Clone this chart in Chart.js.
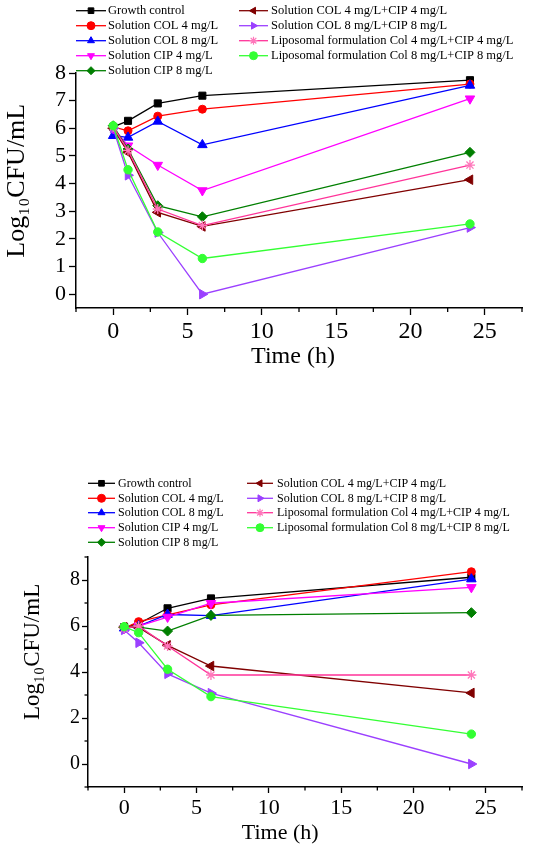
<!DOCTYPE html>
<html><head><meta charset="utf-8">
<script src="https://cdn.jsdelivr.net/npm/chart.js@4/dist/chart.umd.min.js"></script>
<style>
html,body{margin:0;padding:0;background:#fff;}
#wrap{position:relative;width:550px;height:849px;overflow:hidden;}
#c1{position:absolute;left:0;top:0;}
#c2{position:absolute;left:0;top:400px;}
</style></head><body>
<div id="wrap"><canvas id="c1" width="550" height="400"></canvas><canvas id="c2" width="550" height="449"></canvas></div>
<script>
// ---- data ----
const timePoints = [0, 1, 3, 6, 24];
const seriesNames = [
  'Growth control',
  'Solution COL 4 mg/L',
  'Solution COL 8 mg/L',
  'Solution CIP 4 mg/L',
  'Solution CIP 8 mg/L',
  'Solution COL 4 mg/L+CIP 4 mg/L',
  'Solution COL 8 mg/L+CIP 8 mg/L',
  'Liposomal formulation Col 4 mg/L+CIP 4 mg/L',
  'Liposomal formulation Col 8 mg/L+CIP 8 mg/L'
];
const xTickValues = [0, 5, 10, 15, 20, 25];
const topYTickValues = [0, 1, 2, 3, 4, 5, 6, 7, 8];
const bottomYTickValues = [0, 2, 4, 6, 8];
const yTitleText = 'Log\u2081\u2080CFU/mL';
const xTitleText = 'Time (h)';

// top panel
const topGrowth = [6.05, 6.27, 6.90, 7.18, 7.74];
const topCol4   = [6.05, 5.91, 6.44, 6.69, 7.60];
const topCol8   = [5.73, 5.67, 6.25, 5.40, 7.55];
const topCip4   = [6.00, 5.37, 4.67, 3.75, 7.07];
const topCip8   = [6.09, 5.25, 3.20, 2.80, 5.13];
const topCombo4 = [6.00, 5.13, 2.96, 2.45, 4.14];
const topCombo8 = [6.00, 4.30, 2.23, 0.00, 2.41];
const topLipo4  = [6.05, 5.20, 3.08, 2.48, 4.67];
const topLipo8  = [6.09, 4.50, 2.25, 1.29, 2.54];

// bottom panel
const botGrowth = [5.95, 6.10, 6.77, 7.20, 8.12];
const botCol4   = [5.90, 6.19, 6.48, 6.92, 8.36];
const botCol8   = [5.90, 6.00, 6.50, 6.45, 8.04];
const botCip4   = [5.90, 6.00, 6.39, 6.99, 7.68];
const botCip8   = [5.94, 5.95, 5.78, 6.46, 6.58];
const botCombo4 = [5.95, 5.94, 5.16, 4.26, 3.09];
const botCombo8 = [5.83, 5.27, 3.92, 3.08, 0.00];
const botLipo4  = [5.90, 6.00, 5.13, 3.87, 3.87];
const botLipo8  = [5.97, 5.71, 4.12, 2.93, 1.30];

// ---- styles ----
const FONT = "'Liberation Serif', 'Times New Roman', serif";
const NB = '\u00a0';
const lineColors  = ['#000000','#ff0000','#0000ff','#ff00ff','#007f00','#800000','#9b40ff','#ff3399','#33ff33'];
const markColors  = ['#000000','#ff0000','#0000ff','#ff00ff','#007f00','#800000','#9b40ff','#ff77bb','#33ff33'];
const markStyles  = ['rect','circle','triangle','triangle','rectRot','triangle','triangle','star','circle'];
const markRot     = [0,0,0,180,0,270,90,0,0];
const markRadius  = [5,4,5.5,5.5,5,5.5,5.5,5,4.2];

function buildDatasets(seriesList) {
  return seriesList.map((vals, i) => ({
    label: seriesNames[i],
    data: timePoints.map((t, k) => ({x: t, y: vals[k]})),
    borderColor: lineColors[i],
    backgroundColor: markColors[i],
    pointBorderColor: markColors[i],
    pointBackgroundColor: markColors[i],
    pointStyle: markStyles[i],
    rotation: markRot[i],
    pointRadius: markRadius[i],
    pointBorderWidth: markStyles[i] === 'star' ? 1.3 : 1,
    borderWidth: 1.3,
    tension: 0,
    fill: false,
    order: seriesList.length - i
  }));
}

function drawMarker(ctx, style, rot, r, x, y, color) {
  ctx.save();
  ctx.fillStyle = color; ctx.strokeStyle = color;
  ctx.lineWidth = style === 'star' ? 1.2 : 1;
  if (Chart.helpers && Chart.helpers.drawPoint) {
    Chart.helpers.drawPoint(ctx, {pointStyle: style, rotation: rot, radius: r, borderWidth: ctx.lineWidth}, x, y);
  } else {
    ctx.beginPath(); ctx.arc(x, y, r, 0, Math.PI * 2); ctx.fill();
  }
  ctx.restore();
}

const customLegend = {
  id: 'customLegend',
  afterDraw(chart, args, o) {
    const ctx = chart.ctx;
    const ds = chart.data.datasets;
    ctx.save();
    ctx.font = o.fontSize + 'px ' + FONT;
    ctx.textBaseline = 'middle';
    ctx.textAlign = 'left';
    ds.forEach((d, i) => {
      const col = o.cols[Math.floor(i / o.rows.length)];
      const y = o.rows[i % o.rows.length];
      ctx.strokeStyle = lineColors[i];
      ctx.lineWidth = 1.3;
      ctx.beginPath(); ctx.moveTo(col.x0, y); ctx.lineTo(col.x1, y); ctx.stroke();
      drawMarker(ctx, markStyles[i], markRot[i], o.markR, (col.x0 + col.x1) / 2, y, markColors[i]);
      ctx.fillStyle = '#000';
      ctx.fillText(d.label, col.tx, y + 0.5);
    });
    ctx.restore();
  }
};

const minorTicks = {
  id: 'minorTicks',
  afterDraw(chart, args, o) {
    const ctx = chart.ctx;
    ctx.save();
    ctx.strokeStyle = '#000';
    ctx.lineWidth = 1.3;
    ['x', 'y'].forEach(id => {
      const step = o[id];
      if (!step) return;
      const s = chart.scales[id];
      const majors = s.ticks.map(t => t.value);
      for (let v = Math.ceil(s.min / step) * step; v <= s.max + 1e-9; v += step) {
        if (majors.some(m => Math.abs(m - v) < 1e-6)) continue;
        const p = s.getPixelForValue(v);
        ctx.beginPath();
        if (id === 'x') { ctx.moveTo(p, s.top); ctx.lineTo(p, s.top + o.len); }
        else { ctx.moveTo(s.right, p); ctx.lineTo(s.right - o.len, p); }
        ctx.stroke();
      }
    });
    ctx.restore();
  }
};

function axis(opts) {
  return {
    type: 'linear',
    min: opts.min, max: opts.max,
    afterBuildTicks: s => { s.ticks = opts.tickValues.map(v => ({value: v})); },
    afterFit: s => { if (opts.width) s.width = opts.width; if (opts.height) s.height = opts.height; },
    border: {display: true, color: '#000', width: 1.5},
    grid: {drawOnChartArea: false, drawTicks: true, tickLength: opts.tickLen, color: '#000', tickColor: '#000', tickWidth: 1.3},
    ticks: {color: '#000', font: {family: FONT, size: opts.tickSize}, padding: opts.tickPad, maxRotation: 0, autoSkip: false},
    title: {display: true, text: opts.title, color: '#000', font: {family: FONT, size: opts.titleSize}, padding: opts.titlePad}
  };
}

function makeChart(id, seriesList, cfg) {
  return new Chart(document.getElementById(id), {
    type: 'line',
    data: {datasets: buildDatasets(seriesList)},
    options: {
      responsive: false, animation: false, devicePixelRatio: 1,
      layout: {padding: cfg.padding},
      plugins: {legend: {display: false}, tooltip: {enabled: false},
        customLegend: cfg.legend, minorTicks: cfg.minor},
      scales: {x: axis(cfg.x), y: axis(cfg.y)}
    },
    plugins: [customLegend, minorTicks]
  });
}

makeChart('c1', [topGrowth, topCol4, topCol8, topCip4, topCip8, topCombo4, topCombo8, topLipo4, topLipo8], {
  padding: {top: 73, right: 28, bottom: 29, left: 0},
  x: {min: -2.5, max: 27.5, tickValues: xTickValues, height: 63, tickLen: 7, tickSize: 24, tickPad: 2,
      title: xTitleText + NB + NB, titleSize: 24, titlePad: {top: 0, bottom: 0}},
  y: {min: -0.5, max: 8, tickValues: topYTickValues, width: 76, tickLen: 7, tickSize: 22, tickPad: 3,
      title: NB + NB + NB + yTitleText, titleSize: 26, titlePad: {top: 2, bottom: 0}},
  legend: {rows: [10.7, 25.7, 40.7, 55.7, 70.7], cols: [{x0: 76, x1: 106, tx: 108}, {x0: 239, x1: 268, tx: 271}], fontSize: 12.5, markR: 4},
  minor: {x: 2.5, len: 4}
});

makeChart('c2', [botGrowth, botCol4, botCol8, botCip4, botCip8, botCombo4, botCombo8, botLipo4, botLipo8], {
  padding: {top: 157, right: 28, bottom: 0, left: 0},
  x: {min: -2.5, max: 27.5, tickValues: xTickValues, height: 62, tickLen: 6, tickSize: 22, tickPad: 2,
      title: xTitleText + NB.repeat(9), titleSize: 22, titlePad: {top: 0, bottom: 3}},
  y: {min: -1, max: 9, tickValues: bottomYTickValues, width: 88, tickLen: 6, tickSize: 20, tickPad: 2,
      title: NB.repeat(7) + yTitleText, titleSize: 23, titlePad: {top: 19, bottom: 0}},
  legend: {rows: [83.3, 98.3, 112.7, 127.7, 142.3], cols: [{x0: 88, x1: 115, tx: 118}, {x0: 247, x1: 273, tx: 277}], fontSize: 12, markR: 4},
  minor: {x: 2.5, y: 1, len: 3.5}
});
</script>
</body></html>
